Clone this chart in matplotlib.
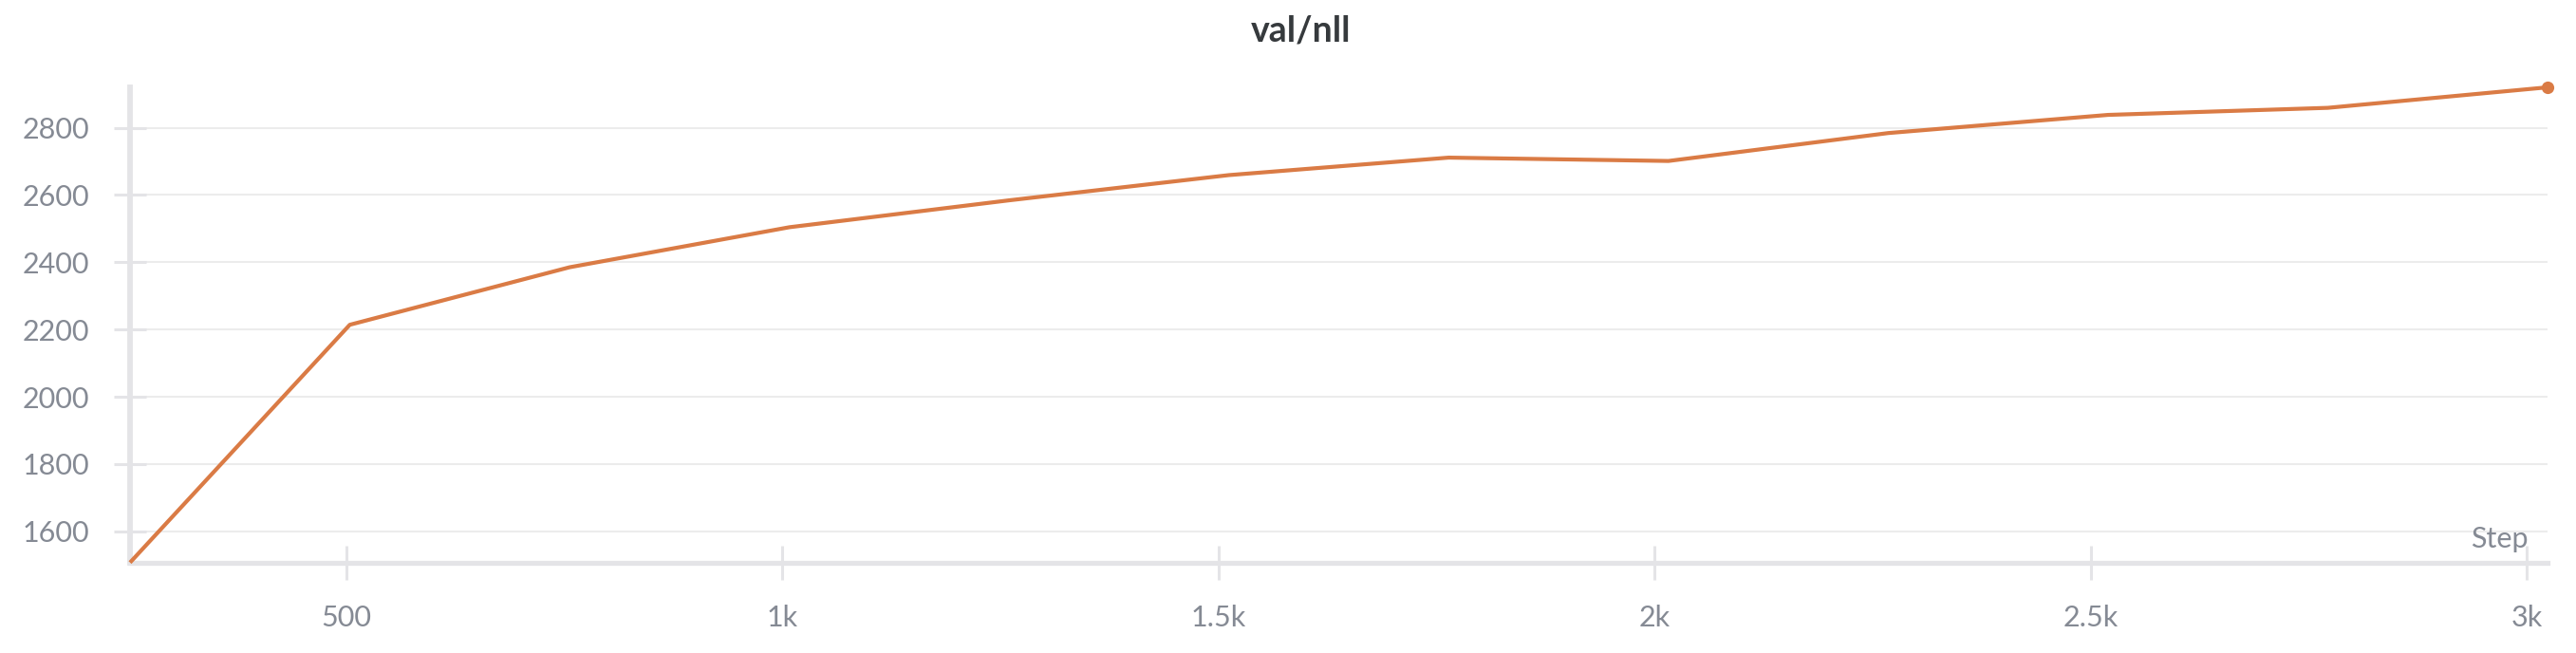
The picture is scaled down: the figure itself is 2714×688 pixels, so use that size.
import matplotlib
matplotlib.use("Agg")
import matplotlib.pyplot as plt
from matplotlib.ticker import FixedLocator, FuncFormatter

# ---- data ----
steps = [252, 504, 756, 1008, 1260, 1512, 1764, 2016, 2268, 2520, 2772, 3024]
val_nll = [1507, 2214, 2385, 2504, 2584, 2659, 2711, 2701, 2784, 2838, 2859, 2920]
x_ticks = [500, 1000, 1500, 2000, 2500, 3000]
x_tick_labels = ["500", "1k", "1.5k", "2k", "2.5k", "3k"]
y_ticks = [1600, 1800, 2000, 2200, 2400, 2600, 2800]
title = "val/nll"
x_label = "Step"

plt.rcParams['font.family'] = ['Lato', 'DejaVu Sans']

W, H, DPI = 2714, 688, 100
fig = plt.figure(figsize=(W / DPI, H / DPI), dpi=DPI)
left, right, bottom, top = 137, 2684, 592.7, 92
ax = fig.add_axes([left / W, 1 - bottom / H, (right - left) / W, (bottom - top) / H])

line_color = "#da7b45"
axis_color = "#e4e4e7"
grid_color = "#ececec"
text_color = "#858a94"

ax.plot(steps, val_nll, color=line_color, lw=3.0, clip_on=False, zorder=3,
        solid_joinstyle='round', solid_capstyle='butt')
ax.plot([steps[-1]], [val_nll[-1]], 'o', color=line_color, markersize=9.5,
        clip_on=False, zorder=4, markeredgewidth=0)

ax.set_xlim(min(steps), max(steps))
ax.set_ylim(min(val_nll), max(val_nll))

ax.xaxis.set_major_locator(FixedLocator(x_ticks))
ax.xaxis.set_major_formatter(FuncFormatter(lambda v, p: x_tick_labels[x_ticks.index(int(round(v)))] if int(round(v)) in x_ticks else ""))
ax.yaxis.set_major_locator(FixedLocator(y_ticks))

for s in ['top', 'right']:
    ax.spines[s].set_visible(False)
ax.spines['left'].set_color(axis_color)
ax.spines['left'].set_linewidth(4.2)
ax.spines['bottom'].set_color(axis_color)
ax.spines['bottom'].set_linewidth(3.8)

ax.grid(axis='y', color=grid_color, lw=1.5, zorder=0)
ax.set_axisbelow(True)

ax.tick_params(axis='y', direction='inout', length=25, width=2.2, color=axis_color,
               labelsize=22, labelcolor=text_color, pad=18.5)
ax.tick_params(axis='x', direction='inout', length=26, width=2.2, color=axis_color,
               labelsize=22, labelcolor=text_color, pad=19)

fig.text(1371 / W, 1 - 32 / H, title, ha='center', va='center', fontsize=27,
         fontweight='bold', color='#363a3d')
ax.text(2664 / W, 1 - 577 / H, x_label, transform=fig.transFigure, ha='right',
        va='baseline', fontsize=22, color=text_color)

fig.savefig("out.png", dpi=DPI, facecolor='white')
